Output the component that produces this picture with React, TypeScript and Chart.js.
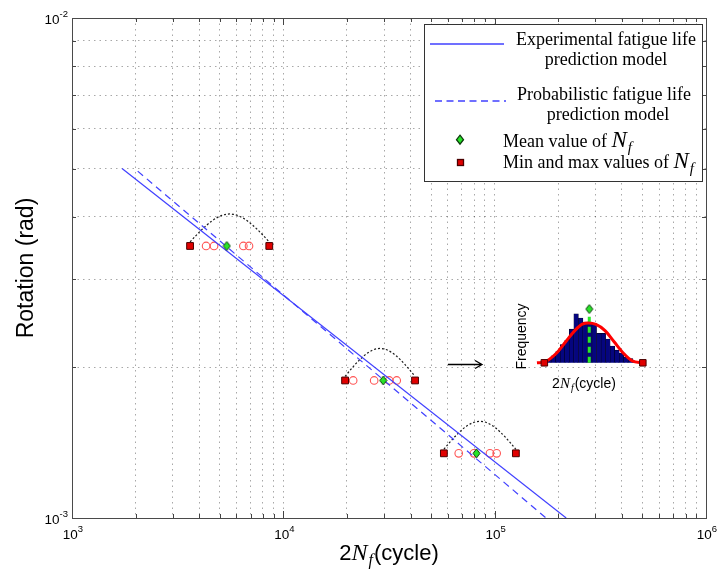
import React, { useEffect, useRef } from 'react';
import { Chart, registerables } from 'chart.js';

Chart.register(...registerables);

const SANS = '"Liberation Sans", Arial, Helvetica, sans-serif';
const SERIF = '"Liberation Serif", "Times New Roman", Times, serif';
const BLUE = 'rgb(64, 64, 255)';
const GREEN_FILL = 'rgb(40, 228, 40)';
const GREEN_EDGE = '#0c3a0c';
const RED_FILL = '#e00000';
const RED_EDGE = '#4a0000';
const CIRCLE_RED = 'rgb(255, 84, 84)';

// ---------------- main chart data ----------------
const expModelCycles = [1725, 218000];
const expModelRotation = [0.005, 0.001];
const probModelCycles = [2046, 175000];
const probModelRotation = [0.00494, 0.001];

const levelRotation = [0.0035, 0.001884, 0.001347];
const meanCycles = [5400, 29700, 82000];
const minCycles = [3620, 19600, 57500];
const maxCycles = [8580, 42000, 126000];
const samplesLevel1 = [4310, 4700, 6470, 6880];
const samplesLevel2 = [21400, 26900, 31700, 34400];
const samplesLevel3 = [67600, 79800, 95000, 102200];

const xDecades = [1e3, 1e4, 1e5, 1e6];
const xTickExponents = ['3', '4', '5', '6'];
const yDecades = [1e-3, 1e-2];
const yTickExponents = ['-3', '-2'];
const tickBase = '10';
const minorMantissas = [1, 2, 3, 4, 5, 6, 7, 8, 9];

// ---------------- inset (distribution) data ----------------
const insetBinCenters = [0.5, 1.5, 2.5, 3.5, 4.5, 5.5, 6.5, 7.5, 8.5, 9.5, 10.5, 11.5, 12.5, 13.5, 14.5, 15.5, 16.5, 17.5, 18.5, 19.5, 20.5];
const insetCounts = [1, 2, 5, 8, 13, 16, 24, 35, 32, 29, 29, 28, 21, 21, 17, 12, 9, 7, 4, 3, 1];
const pdfCycles = [-1.13, 0.54, 3.21, 5.21, 7.21, 8.87, 10.2, 11.87, 13.87, 15.87, 17.87, 19.87, 22.2];
const pdfFrequency = [0, 0.6, 7, 15, 23, 27.6, 28.4, 27.4, 23, 15, 7, 1.4, 0];
const insetMeanCycle = [10.4];
const insetMeanLine = [0, 35];
const insetMeanMarker = [38.4];
const insetMinMaxCycle = [0.5, 22.2];

function logTicks(decades: number[]) {
  const out: { value: number }[] = [];
  for (let i = 0; i < decades.length - 1; i++) {
    for (const m of minorMantissas) out.push({ value: m * decades[i] });
  }
  out.push({ value: decades[decades.length - 1] });
  return out;
}

function isDecade(v: number, decades: number[]) {
  return decades.findIndex((d) => Math.abs(d - v) / d < 1e-6);
}

function makeDiamond(w: number, h: number) {
  const c = document.createElement('canvas');
  c.width = w + 2;
  c.height = h + 2;
  const g = c.getContext('2d')!;
  g.beginPath();
  g.moveTo(c.width / 2, 1);
  g.lineTo(c.width - 1, c.height / 2);
  g.lineTo(c.width / 2, c.height - 1);
  g.lineTo(1, c.height / 2);
  g.closePath();
  g.fillStyle = GREEN_FILL;
  g.fill();
  g.strokeStyle = GREEN_EDGE;
  g.lineWidth = 1;
  g.stroke();
  return c;
}

type Seg = { t: string; font: string; dy?: number; dx?: number };

function drawSegs(ctx: CanvasRenderingContext2D, segs: Seg[], x: number, baseline: number, align: 'left' | 'center' | 'right') {
  let total = 0;
  for (const s of segs) {
    ctx.font = s.font;
    total += ctx.measureText(s.t).width + (s.dx || 0);
  }
  let cx = align === 'center' ? x - total / 2 : align === 'right' ? x - total : x;
  ctx.textAlign = 'left';
  ctx.textBaseline = 'alphabetic';
  for (const s of segs) {
    ctx.font = s.font;
    cx += s.dx || 0;
    ctx.fillText(s.t, cx, baseline + (s.dy || 0));
    cx += ctx.measureText(s.t).width;
  }
}

function nf(nSize: number, fSize: number, fDrop: number): Seg[] {
  return [
    { t: 'N', font: `italic ${nSize}px ${SERIF}` },
    { t: 'f', font: `italic ${fSize}px ${SERIF}`, dy: fDrop, dx: 1 },
  ];
}

function tickLabel(exp: string): Seg[] {
  return [
    { t: tickBase, font: `13.5px ${SANS}` },
    { t: exp, font: `9.5px ${SANS}`, dy: -7 },
  ];
}

const decorPlugin = {
  id: 'decor',
  beforeDatasetsDraw(chart: any) {
    const ctx: CanvasRenderingContext2D = chart.ctx;
    const xs = chart.scales.x;
    const ys = chart.scales.y;
    ctx.save();
    ctx.strokeStyle = '#1a1a1a';
    ctx.lineWidth = 1.2;
    ctx.setLineDash([2, 2]);
    levelRotation.forEach((r, i) => {
      const x0 = xs.getPixelForValue(minCycles[i]);
      const x1 = xs.getPixelForValue(maxCycles[i]);
      const y = ys.getPixelForValue(r) - 4;
      const w = x1 - x0;
      const h = 28;
      ctx.beginPath();
      ctx.moveTo(x0, y);
      ctx.bezierCurveTo(x0 + 0.4244 * w, y - 1.3333 * h, x1 - 0.4244 * w, y - 1.3333 * h, x1, y);
      ctx.stroke();
    });
    ctx.restore();
  },
  afterDraw(chart: any) {
    const ctx: CanvasRenderingContext2D = chart.ctx;
    const a = chart.chartArea;
    const xs = chart.scales.x;
    const ys = chart.scales.y;
    ctx.save();
    ctx.setLineDash([]);
    // inward tick marks
    ctx.strokeStyle = '#444';
    ctx.lineWidth = 1;
    logTicks(xDecades).forEach(({ value }) => {
      const p = Math.round(xs.getPixelForValue(value)) + 0.5;
      const len = isDecade(value, xDecades) >= 0 ? 7 : 4;
      ctx.beginPath();
      ctx.moveTo(p, a.bottom);
      ctx.lineTo(p, a.bottom - len);
      ctx.moveTo(p, a.top);
      ctx.lineTo(p, a.top + len);
      ctx.stroke();
    });
    logTicks(yDecades).forEach(({ value }) => {
      const p = Math.round(ys.getPixelForValue(value)) + 0.5;
      const len = isDecade(value, yDecades) >= 0 ? 7 : 4;
      ctx.beginPath();
      ctx.moveTo(a.left, p);
      ctx.lineTo(a.left + len, p);
      ctx.moveTo(a.right, p);
      ctx.lineTo(a.right - len, p);
      ctx.stroke();
    });
    // axes box
    ctx.strokeStyle = '#4a4a4a';
    ctx.lineWidth = 1;
    ctx.strokeRect(Math.round(a.left) + 0.5, Math.round(a.top) + 0.5, Math.round(a.right - a.left), Math.round(a.bottom - a.top));

    // decade tick labels
    ctx.fillStyle = '#000';
    xDecades.forEach((d, i) => {
      drawSegs(ctx, tickLabel(xTickExponents[i]), xs.getPixelForValue(d) + 1, a.bottom + 21, 'center');
    });
    yDecades.forEach((d, i) => {
      drawSegs(ctx, tickLabel(yTickExponents[i]), a.left - 4, ys.getPixelForValue(d) + 5.5, 'right');
    });

    // legend
    const right = a.right - 3;
    const top = a.top + 6;
    const left = right - 279;
    const bottom = top + 158;
    ctx.fillStyle = '#fff';
    ctx.fillRect(left, top, right - left, bottom - top);
    ctx.strokeStyle = '#333';
    ctx.strokeRect(Math.round(left) + 0.5, Math.round(top) + 0.5, Math.round(right - left) - 1, Math.round(bottom - top) - 1);
    ctx.strokeStyle = BLUE;
    ctx.lineWidth = 1.3;
    ctx.beginPath();
    ctx.moveTo(left + 6, top + 20);
    ctx.lineTo(left + 80, top + 20);
    ctx.stroke();
    ctx.setLineDash([7, 4.5]);
    ctx.beginPath();
    ctx.moveTo(left + 11, top + 77);
    ctx.lineTo(left + 82, top + 77);
    ctx.stroke();
    ctx.setLineDash([]);
    ctx.fillStyle = '#000';
    const lf = `18px ${SERIF}`;
    drawSegs(ctx, [{ t: 'Experimental fatigue life', font: lf }], left + 182, top + 21, 'center');
    drawSegs(ctx, [{ t: 'prediction model', font: lf }], left + 182, top + 40.5, 'center');
    drawSegs(ctx, [{ t: 'Probabilistic fatigue life', font: lf }], left + 180, top + 76, 'center');
    drawSegs(ctx, [{ t: 'prediction model', font: lf }], left + 184, top + 95.5, 'center');
    // legend diamond
    const dx = left + 36;
    const dy = top + 115.7;
    ctx.beginPath();
    ctx.moveTo(dx, dy - 4.5);
    ctx.lineTo(dx + 3.5, dy);
    ctx.lineTo(dx, dy + 4.5);
    ctx.lineTo(dx - 3.5, dy);
    ctx.closePath();
    ctx.fillStyle = GREEN_FILL;
    ctx.fill();
    ctx.strokeStyle = GREEN_EDGE;
    ctx.stroke();
    // legend square
    ctx.fillStyle = RED_FILL;
    ctx.fillRect(left + 33.5, top + 135.5, 6, 6);
    ctx.strokeStyle = RED_EDGE;
    ctx.strokeRect(left + 33.5, top + 135.5, 6, 6);
    ctx.fillStyle = '#000';
    drawSegs(ctx, [{ t: 'Mean value of ', font: lf }, ...nf(23, 15, 5)], left + 79, top + 122.5, 'left');
    drawSegs(ctx, [{ t: 'Min and max values of ', font: lf }, ...nf(23, 15, 5)], left + 79, top + 144.4, 'left');

    // arrow towards inset
    ctx.strokeStyle = '#000';
    ctx.lineWidth = 1.3;
    const ay = 364.5;
    ctx.beginPath();
    ctx.moveTo(448, ay);
    ctx.lineTo(482, ay);
    ctx.moveTo(475, ay - 4);
    ctx.lineTo(482, ay);
    ctx.lineTo(475, ay + 4);
    ctx.stroke();

    // inset labels
    ctx.fillStyle = '#000';
    ctx.save();
    ctx.translate(526, 336.5);
    ctx.rotate(-Math.PI / 2);
    ctx.font = `14px ${SANS}`;
    ctx.textAlign = 'center';
    ctx.textBaseline = 'alphabetic';
    ctx.fillText('Frequency', 0, 0);
    ctx.restore();
    drawSegs(ctx, [{ t: '2', font: `14px ${SANS}` }, ...nf(15, 10, 3), { t: '(cycle)', font: `14px ${SANS}`, dx: 1 }], 584, 387.5, 'center');

    // x axis title
    drawSegs(ctx, [{ t: '2', font: `22px ${SANS}` }, ...nf(24, 16, 5), { t: '(cycle)', font: `22px ${SANS}`, dx: 1 }], (a.left + a.right) / 2, 560, 'center');
    ctx.restore();
  },
};

function mainConfig(): any {
  const diamond = makeDiamond(7, 9);
  const pair = (xs: number[], ys: number[]) => xs.map((x, i) => ({ x, y: ys[i] }));
  const level = (xs: number[], r: number) => xs.map((x) => ({ x, y: r }));
  const gridColor = (decades: number[]) => (c: any) => {
    const v = c.tick ? c.tick.value : NaN;
    const first = decades[0];
    const last = decades[decades.length - 1];
    if (Math.abs(v - first) / first < 1e-6 || Math.abs(v - last) / last < 1e-6) return 'rgba(0,0,0,0)';
    return 'rgba(0,0,0,0.34)';
  };
  return {
    type: 'scatter',
    data: {
      datasets: [
        {
          label: 'Mean value of Nf',
          data: pair(meanCycles, levelRotation),
          pointStyle: diamond,
          pointRadius: 5,
        },
        {
          label: 'Min and max values of Nf',
          data: [...pair(minCycles, levelRotation), ...pair(maxCycles, levelRotation)],
          pointStyle: 'rect',
          pointRadius: 4.8,
          backgroundColor: RED_FILL,
          borderColor: RED_EDGE,
          borderWidth: 1,
        },
        {
          label: 'Experimental fatigue life prediction model',
          data: pair(expModelCycles, expModelRotation),
          showLine: true,
          pointRadius: 0,
          borderColor: BLUE,
          borderWidth: 1.2,
        },
        {
          label: 'Probabilistic fatigue life prediction model',
          data: pair(probModelCycles, probModelRotation),
          showLine: true,
          pointRadius: 0,
          borderColor: BLUE,
          borderWidth: 1.2,
          borderDash: [7, 5],
        },
        {
          label: 'Nf samples',
          data: [
            ...level(samplesLevel1, levelRotation[0]),
            ...level(samplesLevel2, levelRotation[1]),
            ...level(samplesLevel3, levelRotation[2]),
          ],
          pointStyle: 'circle',
          pointRadius: 3.8,
          backgroundColor: 'rgba(0,0,0,0)',
          borderColor: CIRCLE_RED,
          borderWidth: 1.1,
        },
      ],
    },
    options: {
      animation: false,
      responsive: false,
      events: [],
      layout: { padding: { left: 0, top: 18, right: 11, bottom: 0 } },
      plugins: { legend: { display: false }, tooltip: { enabled: false } },
      scales: {
        x: {
          type: 'logarithmic',
          min: 1e3,
          max: 1e6,
          afterBuildTicks: (s: any) => {
            s.ticks = logTicks(xDecades);
          },
          afterFit: (s: any) => {
            s.height = 54;
            s.paddingLeft = 0;
            s.paddingRight = 0;
          },
          ticks: { display: false, autoSkip: false },
          grid: { drawTicks: false, color: gridColor(xDecades), lineWidth: 1 },
          border: { display: false, dash: [1.5, 4] },
          title: { display: false },
        },
        y: {
          type: 'logarithmic',
          min: 1e-3,
          max: 1e-2,
          afterBuildTicks: (s: any) => {
            s.ticks = logTicks(yDecades);
          },
          afterFit: (s: any) => {
            s.width = 72;
            s.paddingTop = 0;
            s.paddingBottom = 0;
          },
          ticks: { display: false, autoSkip: false },
          grid: { drawTicks: false, color: gridColor(yDecades), lineWidth: 1 },
          border: { display: false, dash: [1.5, 4] },
          title: {
            display: true,
            text: 'Rotation (rad)',
            color: '#000',
            font: { size: 23, family: SANS },
            padding: { top: 13, bottom: 0 },
          },
        },
      },
    },
    plugins: [decorPlugin],
  };
}

function insetConfig(): any {
  const diamond = makeDiamond(7, 9);
  return {
    type: 'bar',
    data: {
      datasets: [
        {
          type: 'scatter',
          data: insetMeanCycle.map((x, i) => ({ x, y: insetMeanMarker[i] })),
          pointStyle: diamond,
          pointRadius: 5,
          order: 0,
        },
        {
          type: 'scatter',
          data: insetMinMaxCycle.map((x) => ({ x, y: 0 })),
          pointStyle: 'rect',
          pointRadius: 4.6,
          backgroundColor: RED_FILL,
          borderColor: RED_EDGE,
          borderWidth: 1,
          order: 1,
        },
        {
          type: 'line',
          data: pdfCycles.map((x, i) => ({ x, y: pdfFrequency[i] })),
          borderColor: '#ff0000',
          borderWidth: 3,
          pointRadius: 0,
          cubicInterpolationMode: 'monotone',
          order: 2,
        },
        {
          type: 'line',
          data: insetMeanLine.map((y) => ({ x: insetMeanCycle[0], y })),
          borderColor: 'rgb(40, 235, 40)',
          borderWidth: 3,
          borderDash: [6, 4],
          pointRadius: 0,
          order: 3,
        },
        {
          type: 'bar',
          data: insetBinCenters.map((x, i) => ({ x, y: insetCounts[i] })),
          backgroundColor: '#05057f',
          borderColor: '#000025',
          borderWidth: 0.6,
          barPercentage: 1,
          categoryPercentage: 1,
          order: 4,
        },
      ],
    },
    options: {
      animation: false,
      responsive: false,
      events: [],
      layout: { padding: 0 },
      plugins: { legend: { display: false }, tooltip: { enabled: false } },
      scales: {
        x: { type: 'linear', min: -2, max: 24, offset: false, display: false },
        y: { type: 'linear', min: -3, max: 42, display: false },
      },
    },
  };
}

export default function App() {
  const mainRef = useRef<HTMLCanvasElement>(null);
  const insetRef = useRef<HTMLCanvasElement>(null);

  useEffect(() => {
    Chart.defaults.font.family = SANS;
    const main = new Chart(mainRef.current!, mainConfig());
    const inset = new Chart(insetRef.current!, insetConfig());
    return () => {
      main.destroy();
      inset.destroy();
    };
  }, []);

  return (
    <div style={{ position: 'fixed', left: 0, top: 0, width: 717, height: 572, background: '#fff' }}>
      <canvas ref={mainRef} width={717} height={572} style={{ position: 'absolute', left: 0, top: 0 }} />
      <canvas ref={insetRef} width={130} height={75} style={{ position: 'absolute', left: 527, top: 298 }} />
    </div>
  );
}
